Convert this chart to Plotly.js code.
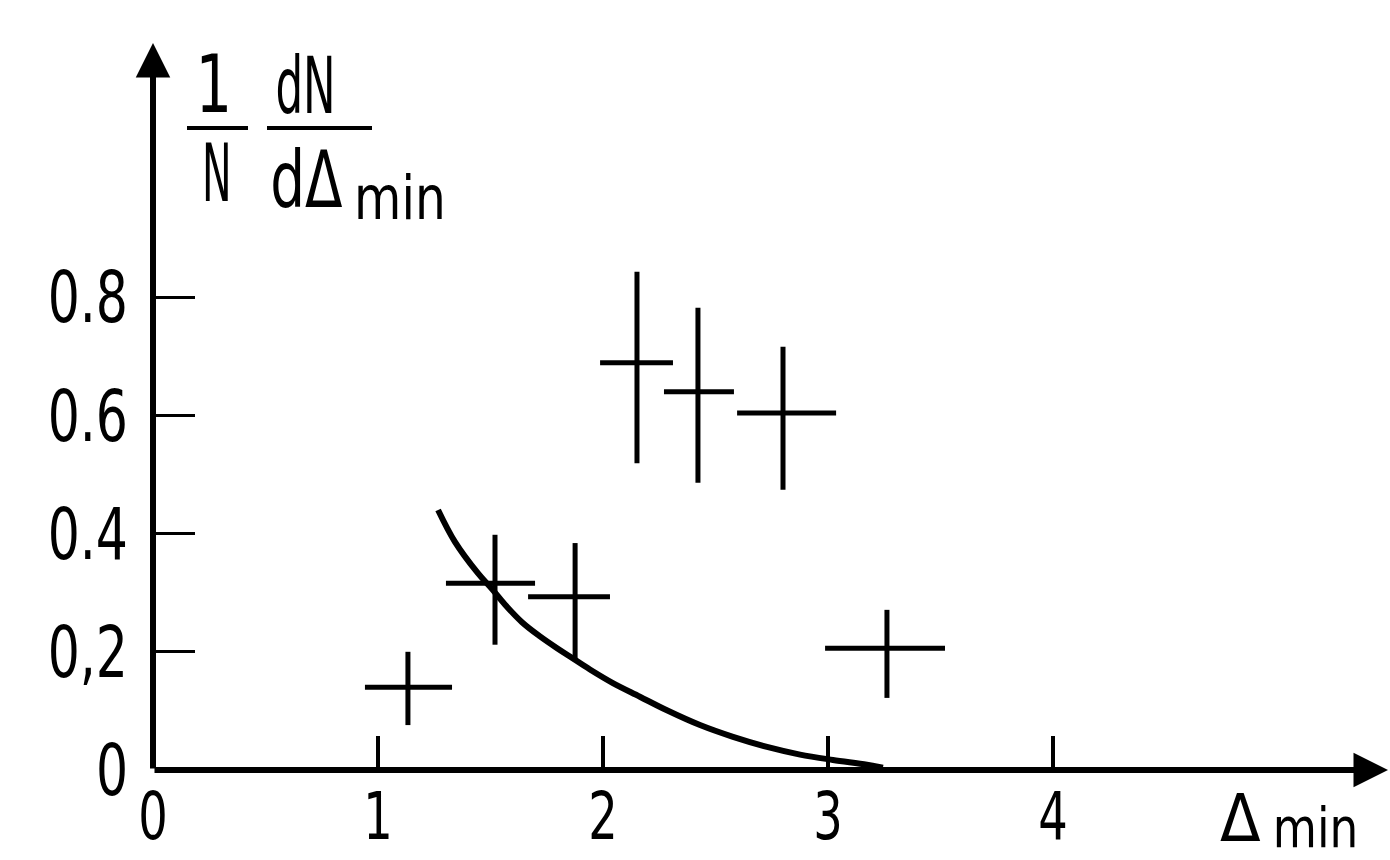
<!DOCTYPE html>
<html>
<head>
<meta charset="utf-8">
<script src="https://cdn.plot.ly/plotly-3.0.1.min.js"></script>
<style>
html,body{margin:0;padding:0;background:#fff;}
#chart{width:1390px;height:860px;}
</style>
</head>
<body>
<div id="chart"></div>
<script>
// ---- data ----
const pointX    = [1.133, 1.520, 1.876, 2.151, 2.422, 2.800, 3.262];
const pointXLow = [0.942, 1.302, 1.667, 1.987, 2.271, 2.596, 2.987];
const pointXHigh= [1.329, 1.698, 2.031, 2.311, 2.582, 3.036, 3.520];
const pointY    = [0.140, 0.316, 0.293, 0.689, 0.640, 0.604, 0.206];
const pointYLow = [0.076, 0.212, 0.186, 0.519, 0.486, 0.474, 0.122];
const pointYHigh= [0.200, 0.398, 0.384, 0.843, 0.782, 0.716, 0.271];

const curveX = [1.267, 1.342, 1.444, 1.507, 1.564, 1.640, 1.720, 1.796, 1.853, 1.942, 2.044, 2.164, 2.284, 2.431, 2.578, 2.729, 2.876, 3.022, 3.173, 3.244];
const curveY = [0.440, 0.386, 0.333, 0.306, 0.280, 0.250, 0.226, 0.206, 0.192, 0.170, 0.147, 0.124, 0.101, 0.076, 0.056, 0.039, 0.026, 0.017, 0.009, 0.004];

const xTickVals = [0, 1, 2, 3, 4];
const xTickText = ['0', '1', '2', '3', '4'];
const yTickVals = [0, 0.2, 0.4, 0.6, 0.8];
const yTickText = ['0', '0,2', '0.4', '0.6', '0.8'];

// ---- layout geometry (pixels) ----
const W = 1390, H = 860;
const ML = 153, MB = 90, MT = 0, MR = 0;
const PW = W - ML - MR, PH = H - MT - MB;
const X_PER_UNIT = 225, Y_PER_UNIT = 591;
const xMax = PW / X_PER_UNIT, yMax = PH / Y_PER_UNIT;
const px = v => (v - ML) / PW;          // pixel x -> paper x
const py = v => (H - MB - v) / PH;      // pixel y -> paper y

const FONT = '"DejaVu Sans Condensed", "DejaVu Sans", sans-serif';

const errMinus = (c, lo) => c.map((v, i) => v - lo[i]);
const errPlus  = (c, hi) => c.map((v, i) => hi[i] - v);

const traces = [
  {
    type: 'scatter', mode: 'lines', x: curveX, y: curveY,
    line: {color: '#000', width: 6, shape: 'spline', smoothing: 1},
    hoverinfo: 'skip', showlegend: false
  },
  {
    type: 'scatter', mode: 'markers', x: pointX, y: pointY,
    marker: {size: 1, color: '#000'},
    error_x: {type: 'data', symmetric: false, array: errPlus(pointX, pointXHigh), arrayminus: errMinus(pointX, pointXLow), width: 0, thickness: 5, color: '#000'},
    error_y: {type: 'data', symmetric: false, array: errPlus(pointY, pointYHigh), arrayminus: errMinus(pointY, pointYLow), width: 0, thickness: 5, color: '#000'},
    showlegend: false
  }
];

const txt = (text, xp, yp, size, xanchor, yanchor) => ({
  text: text, xref: 'paper', yref: 'paper', x: px(xp), y: py(yp),
  xanchor: xanchor || 'center', yanchor: yanchor || 'middle',
  showarrow: false, font: {family: FONT, size: size, color: '#000'}
});

const annotations = [
  // y axis with arrow
  {xref: 'x', yref: 'y', axref: 'x', ayref: 'y', x: 0, y: (PH - 43) / Y_PER_UNIT, ax: 0, ay: 0,
   showarrow: true, arrowhead: 2, arrowsize: 1.15, arrowwidth: 6, arrowcolor: '#000', text: ''},
  // x axis with arrow
  {xref: 'x', yref: 'y', axref: 'x', ayref: 'y', x: (1388 - ML) / X_PER_UNIT, y: 0, ax: 0, ay: 0,
   showarrow: true, arrowhead: 2, arrowsize: 1.15, arrowwidth: 6, arrowcolor: '#000', text: ''},
  // y-axis title: 1/N dN/dΔmin
  txt('1', 214, 84, 80),
  txt('N', 217, 174, 80),
  txt('dN', 305, 86, 78),
  txt('dΔ', 306, 180, 78),
  txt('min', 400, 198, 60),
  // x-axis title
  txt('Δ', 1240, 818, 66),
  txt('min', 1315, 828, 56)
];
// horizontal squeeze per annotation (the reference lettering is very narrow)
const annSqueeze = [1, 1, 0.8, 0.55, 0.62, 0.78, 0.9, 1, 0.9];
const tickSqueeze = 0.78;

const shapes = [
  {type: 'line', xref: 'paper', yref: 'paper', x0: px(187), x1: px(248), y0: py(128), y1: py(128), line: {color: '#000', width: 4}},
  {type: 'line', xref: 'paper', yref: 'paper', x0: px(267), x1: px(372), y0: py(128), y1: py(128), line: {color: '#000', width: 4}}
];

const layout = {
  width: W, height: H,
  margin: {l: ML, r: MR, t: MT, b: MB, pad: 0},
  paper_bgcolor: '#fff', plot_bgcolor: '#fff',
  font: {family: FONT, color: '#000'},
  showlegend: false,
  xaxis: {
    range: [0, xMax], showgrid: false, zeroline: false, showline: false,
    tickmode: 'array', tickvals: xTickVals, ticktext: xTickText,
    ticks: 'inside', ticklen: 34, tickwidth: 4, tickcolor: '#000',
    tickfont: {family: FONT, size: 66, color: '#000'}, ticklabelstandoff: 2,
    fixedrange: true
  },
  yaxis: {
    range: [0, yMax], showgrid: false, zeroline: false, showline: false,
    tickmode: 'array', tickvals: yTickVals, ticktext: yTickText,
    ticks: 'inside', ticklen: 42, tickwidth: 3, tickcolor: '#000',
    tickfont: {family: FONT, size: 72, color: '#000'}, ticklabelstandoff: 24,
    fixedrange: true
  },
  annotations: annotations,
  shapes: shapes
};

function squeeze(el, f) {
  if (!el || f === 1) return;
  const len = el.getComputedTextLength();
  if (len > 0) {
    el.setAttribute('lengthAdjust', 'spacingAndGlyphs');
    el.setAttribute('textLength', (len * f).toFixed(1));
  }
}

Plotly.newPlot('chart', traces, layout, {staticPlot: true, displayModeBar: false}).then(gd => {
  gd.querySelectorAll('.xtick text, .ytick text').forEach(t => squeeze(t, tickSqueeze));
  annSqueeze.forEach((f, i) => {
    const t = gd.querySelector('.annotation[data-index="' + i + '"] text.annotation-text');
    squeeze(t, f);
  });
});
</script>
</body>
</html>
